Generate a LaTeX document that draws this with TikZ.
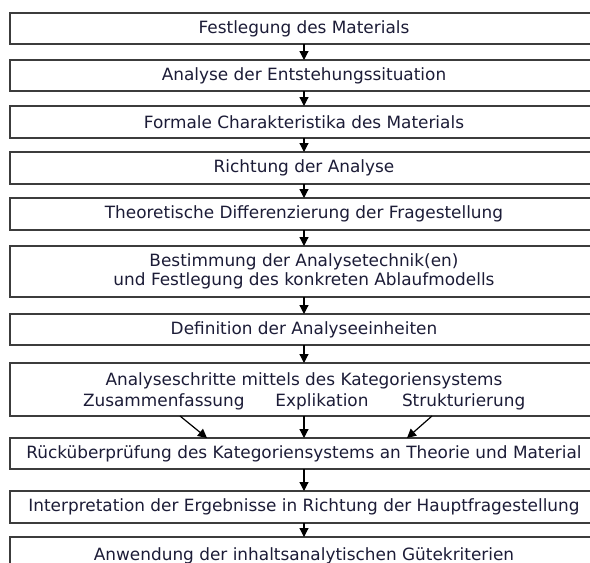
\documentclass[tikz,border=0pt]{standalone}
\usepackage{fontspec}
\setmainfont{DejaVu Sans}
\usetikzlibrary{arrows.meta}
\definecolor{txt}{RGB}{28,28,55}
\definecolor{frame}{RGB}{60,60,60}
\begin{document}
\begin{tikzpicture}[x=1pt,y=-1pt,
  every node/.style={font=\fontsize{16.9}{20}\selectfont, text=txt},
  stepbox/.style={draw=frame, line width=1.5pt, minimum width=588pt, inner sep=0pt, outer sep=0pt},
  lbl/.style={inner sep=0pt, outer sep=0pt},
  flow/.style={line width=1.2pt, -{Triangle[length=9pt,width=9pt]}}]
  \useasboundingbox (0,0) rectangle (590,563);
  \clip (0,0) rectangle (590,563);
  \fill[white] (0,0) rectangle (590,563);

  % main sequence of steps
  \node[stepbox, minimum height=31pt] (b1) at (304,28.5) {Festlegung des Materials};
  \node[stepbox, minimum height=31pt] (b2) at (304,75.5) {Analyse der Entstehungssituation};
  \node[stepbox, minimum height=32pt] (b3) at (304,122) {Formale Charakteristika des Materials};
  \node[stepbox, minimum height=32pt] (b4) at (304,168) {Richtung der Analyse};
  \node[stepbox, minimum height=32pt] (b5) at (304,214) {Theoretische Differenzierung der Fragestellung};
  \node[stepbox, minimum height=51pt, align=center] (b6) at (304,271.5)
    {Bestimmung der Analysetechnik(en)\\[-1pt]und Festlegung des konkreten Ablaufmodells};
  \node[stepbox, minimum height=31pt] (b7) at (304,329.5) {Definition der Analyseeinheiten};
  \node[stepbox, minimum height=53pt] (b8) at (304,389.5) {};
  \node[lbl] (b8t) at (304,381) {Analyseschritte mittels des Kategoriensystems};
  \node[lbl, anchor=west] (zus) at (83,402) {Zusammenfassung};
  \node[lbl] (exp) at (322,402) {Explikation};
  \node[lbl, anchor=west] (str) at (402,402) {Strukturierung};
  \node[stepbox, minimum height=31pt] (b9) at (304,453.5) {Rücküberprüfung des Kategoriensystems an Theorie und Material};
  \node[stepbox, minimum height=32pt] (b10) at (304,507) {Interpretation der Ergebnisse in Richtung der Hauptfragestellung};
  \node[stepbox, minimum height=36pt, text depth=0pt] (b11) at (304,555) {};
  \node[lbl] (b11t) at (304,556) {Anwendung der inhaltsanalytischen Gütekriterien};

  % connectors between the steps
  \foreach \a/\b in {b1/b2,b2/b3,b3/b4,b4/b5,b5/b6,b6/b7,b7/b8,b8/b9,b9/b10,b10/b11}
    \draw[flow] (\a.south) -- (\b.north);

  % the two side branches of the analysis techniques
  \coordinate (zsrc) at (180,416);
  \coordinate (ztgt) at (207,438);
  \coordinate (ssrc) at (432,416);
  \coordinate (stgt) at (407,438);
  \draw[flow] (zsrc) -- (ztgt);
  \draw[flow] (ssrc) -- (stgt);
\end{tikzpicture}
\end{document}
